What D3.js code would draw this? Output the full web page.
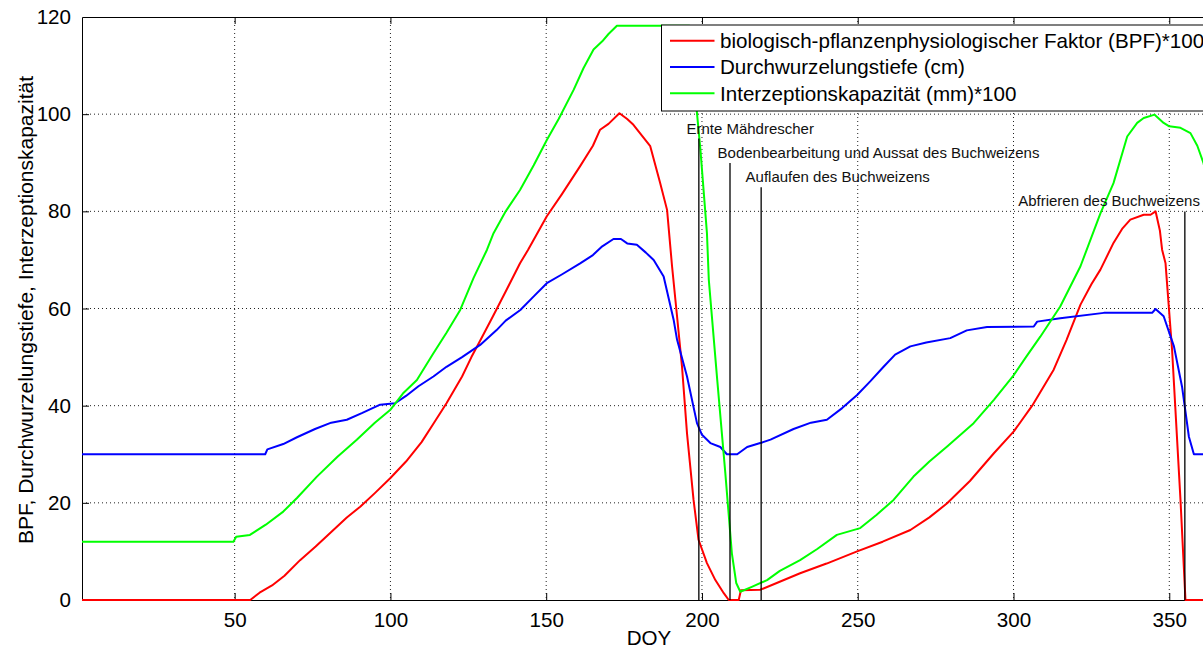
<!DOCTYPE html>
<html>
<head>
<meta charset="utf-8">
<script src="https://cdn.jsdelivr.net/npm/d3@7"></script>
<style>
  body { margin: 0; background: #fff; }
  svg { display: block; font-family: "Liberation Sans", Arial, sans-serif; }
</style>
</head>
<body>
<svg id="chart" width="1203" height="648"></svg>
<script>
// [DOY, value] pairs
const bpf = [[1,0],[55,0],[58,1.5],[62,3],[66,5],[71,8.2],[76,11],[81,14],[86,17],[90.3,19.2],[95,22],[100,25.1],
  [105,28.5],[110,32.5],[114,36.5],[118,40.5],[123,46],[126,50],[129,53.6],[133,58.5],[137,63.5],[141.6,69.3],
  [144.2,72.1],[150.2,79],[155,83.5],[160.9,89.3],[165,93.5],[167.3,96.8],[170,98],[173.5,100.2],[176,99],
  [178,97.8],[183.4,93.4],[186.6,85.8],[188.8,80.3],[190.4,68.7],[192,58.4],[193.6,48],[195.2,34.3],[197.3,20.6],
  [198.9,12.4],[201.6,7.6],[204.3,4.1],[207,1.4],[208.6,0],[211.8,0],[212.5,2],[218.7,2.1],[224,3.5],[231.5,5.5],
  [240,7.5],[249.8,10],[258,12],[266.9,14.4],[273,17],[278.7,19.9],[286,24.5],[293.7,30.2],[300.1,34.7],[306,40],
  [312.9,47.4],[317,53.5],[321.5,60.8],[325,65],[327.9,68],[332.1,73.5],[335,76.5],[337.5,78.3],[341.8,79.3],
  [344,79.3],[345.6,80],[347,76],[347.7,72.1],[348.8,69.3],[350.9,51.5],[353.6,20.6],[355.2,0],[365,0]];

const wurzeltiefe = [[1,30],[59.8,30],[60.5,31],[65.6,32.1],[70,33.5],[75.8,35.2],[81,36.5],[86,37.1],[91,38.5],
  [96.7,40.2],[101.5,40.5],[105,42],[109,44],[113.8,46],[118,48],[123,50],[128.8,52.5],[134,55.5],[137,57.5],
  [141.7,59.7],[146,62.5],[150.2,65.2],[155,67],[160.9,69.3],[165,71],[168,72.8],[171.6,74.3],[174,74.3],
  [176,73.4],[179.1,73.1],[182,71.5],[184.5,70],[187.7,66.6],[190.9,57.7],[192,53.6],[195.2,46],[198.4,36.4],
  [200,34],[202.7,32.3],[205.9,31.5],[208,30],[211.3,30],[214.5,31.5],[218.7,32.3],[222,33],[229.4,35.2],
  [235,36.5],[240.1,37.1],[245,39.5],[249.8,42.2],[254,45],[258.3,48],[262,50.5],[266.9,52.2],[272,53],
  [279.7,53.9],[285,55.5],[291.5,56.2],[306.5,56.3],[307.6,57.3],[315,58],[329,59.1],[344.5,59.1],[345.6,59.9],
  [348.2,58.4],[351.5,52.2],[354.1,43.9],[356.3,33.6],[357.9,30],[365,30]];

const interzeption = [[1,12],[49.6,12],[50.5,13],[54.9,13.4],[60,15.5],[65.6,18.2],[70,21],[76.4,25.4],[83,29.5],
  [89.2,33],[95,36.5],[99.9,39.1],[104,42.5],[108.5,45.3],[113.8,50.8],[118,55],[122.4,59.7],[126.7,66.3],
  [131,72.1],[133.1,75.5],[137,80],[141.6,84.4],[146,89.5],[150.2,94.7],[154,99],[158.8,105],[162,109.5],
  [165.2,113.3],[168,115],[170,116.5],[172.7,118.2],[196,118.2],[198.4,100.2],[199.5,92.7],[201.6,75.5],
  [202.2,65.9],[204.9,45.3],[207.5,26.1],[209.6,9.6],[211,3.5],[212.3,1.7],[216,2.7],[220.9,4.1],[225,6],
  [231.5,8.2],[237,10.5],[243.3,13.4],[250.8,14.8],[256,17.5],[261.5,20.6],[267.9,25.4],[273,28.5],[278.7,31.6],
  [287.2,36.4],[293.7,41.2],[300.1,46.3],[304,50],[308.6,54.2],[315,60.4],[321.5,68.7],[327.9,79.6],[332.1,85.8],
  [336.5,95.4],[339.7,98.2],[341.8,99.2],[345.3,99.9],[348.2,98.2],[350,97.5],[353.6,97.2],[356.8,96.1],
  [359,93.5],[361,89.9],[363,84]];

const seriesNames = ["biologisch-pflanzenphysiologischer Faktor (BPF)*100", "Durchwurzelungstiefe (cm)", "Interzeptionskapazität (mm)*100"];
const seriesColors = ["#ff0000", "#0000ff", "#00ff00"];

const eventDays = [199, 209, 219, 355];
const eventLabels = ["Ernte Mähdrescher", "Bodenbearbeitung und Aussat des Buchweizens", "Auflaufen des Buchweizens", "Abfrieren des Buchweizens"];

const xTicks = [50, 100, 150, 200, 250, 300, 350];
const yTicks = [0, 20, 40, 60, 80, 100, 120];

const svg = d3.select("#chart"),
      margin = { top: 17, left: 82 },
      width = 1134,
      height = 583,
      g = svg.append("g").attr("transform", `translate(${margin.left},${margin.top})`);

const x = d3.scaleLinear().domain([1, 365]).range([0, width]);
const y = d3.scaleLinear().domain([0, 120]).range([height, 0]);

// grid
g.append("g").selectAll("line")
    .data(xTicks)
    .join("line")
    .attr("x1", d => x(d)).attr("x2", d => x(d))
    .attr("y1", 0).attr("y2", height)
    .attr("stroke", "#222").attr("stroke-dasharray", "1,3");
g.append("g").selectAll("line")
    .data(yTicks.filter(d => d > 0 && d < 120))
    .join("line")
    .attr("x1", 0).attr("x2", width)
    .attr("y1", d => y(d)).attr("y2", d => y(d))
    .attr("stroke", "#222").attr("stroke-dasharray", "1,3");

// axes (MATLAB style, ticks inward)
const xAxis = g.append("g")
    .attr("transform", `translate(0,${height})`)
    .call(d3.axisBottom(x).tickValues(xTicks).tickSizeInner(-7).tickSizeOuter(0).tickPadding(12));
const xTop = g.append("g")
    .call(d3.axisTop(x).tickValues(xTicks).tickSizeInner(-7).tickSizeOuter(0).tickFormat(""));
const yAxis = g.append("g")
    .call(d3.axisLeft(y).tickValues(yTicks).tickSizeInner(-7).tickSizeOuter(0).tickPadding(11));

[xAxis, xTop, yAxis].forEach(a => {
    a.select(".domain").attr("stroke", "#000");
    a.selectAll(".tick line").attr("stroke", "#000");
    a.selectAll("text").attr("font-size", 20.6).attr("fill", "#000")
        .attr("font-family", "Liberation Sans, Arial, sans-serif");
});
xAxis.selectAll("text").attr("dy", "0.71em");
yAxis.select(".tick:last-of-type line").remove();

// curves
const line = d3.line().x(d => x(d[0])).y(d => y(d[1]));
[bpf, wurzeltiefe, interzeption].forEach((s, i) => {
    g.append("path")
        .datum(s)
        .attr("fill", "none")
        .attr("stroke", seriesColors[i])
        .attr("stroke-width", 2)
        .attr("stroke-linejoin", "round")
        .attr("d", line);
});

// event markers
const labelRow = d3.scaleLinear().domain([0, 1]).range([96, 91]);
const labelShift = [-4, -4, -5, -53.5];
const ev = g.append("g").selectAll("g")
    .data(eventDays)
    .join("g");
ev.append("line")
    .attr("x1", d => x(d)).attr("x2", d => x(d))
    .attr("y1", (d, i) => y(labelRow(i)) + 5)
    .attr("y2", height)
    .attr("stroke", "#000").attr("stroke-width", 1.3);
ev.append("text")
    .attr("x", (d, i) => x(d + labelShift[i]))
    .attr("y", (d, i) => y(labelRow(i)))
    .attr("font-size", 15)
    .attr("fill", "#111")
    .text((d, i) => eventLabels[i]);

// legend
const legend = svg.append("g").attr("transform", "translate(661.5,25)");
legend.append("rect")
    .attr("width", 560).attr("height", 86)
    .attr("fill", "#fff").attr("stroke", "#000");
const items = legend.selectAll(".item")
    .data(seriesNames)
    .join("g")
    .attr("class", "item")
    .attr("transform", (d, i) => `translate(0,${15.7 + i * 26.3})`);
items.append("line")
    .attr("x1", 8.5).attr("x2", 53)
    .attr("stroke", (d, i) => seriesColors[i]).attr("stroke-width", 2);
items.append("text")
    .attr("x", 58.5).attr("dy", "0.35em")
    .attr("font-size", 20.6).attr("fill", "#000")
    .text(d => d);

// axis titles
svg.append("text")
    .attr("x", 649).attr("y", 645)
    .attr("text-anchor", "middle")
    .attr("font-size", 20.6)
    .text("DOY");
svg.append("text")
    .attr("transform", "translate(33,310) rotate(-90)")
    .attr("text-anchor", "middle")
    .attr("font-size", 21)
    .text("BPF, Durchwurzelungstiefe, Interzeptionskapazität");
</script>
</body>
</html>
